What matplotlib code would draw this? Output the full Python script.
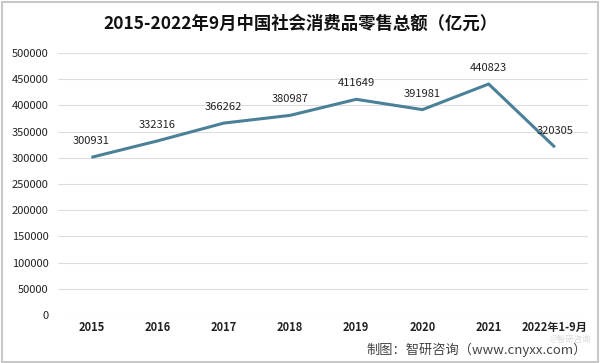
import matplotlib
matplotlib.use("Agg")
import matplotlib.pyplot as plt
from matplotlib.patches import Rectangle

plt.rcParams['font.family'] = ['Noto Sans CJK SC', 'DejaVu Sans']

categories = ["2015", "2016", "2017", "2018", "2019", "2020", "2021", "2022年1-9月"]
values = [300931, 332316, 366262, 380987, 411649, 391981, 440823, 320305]
yticks = [0, 50000, 100000, 150000, 200000, 250000, 300000, 350000, 400000, 450000, 500000]

fig = plt.figure(figsize=(6, 3.63), dpi=100)
fig.patches.append(Rectangle((0.004, 0.004), 0.992, 0.99, transform=fig.transFigure,
                             fill=False, edgecolor="#c8c8c8", linewidth=1.5))
ax = fig.add_axes([0.097, 0.132, 0.883, 0.722])
x = list(range(len(categories)))
ax.plot(x, values, color="#4a8198", linewidth=2.2, solid_capstyle="butt")
for xi, v in zip(x, values):
    ax.annotate(str(v), (xi, v), xytext=(0, 8), textcoords="offset points",
                ha="center", va="bottom", fontsize=8, color="#222222")
ax.set_xlim(-0.5, len(categories) - 0.5)
ax.set_ylim(0, 500000)
ax.set_yticks(yticks)
ax.set_yticklabels([str(t) for t in yticks], fontsize=8, color="#222222")
ax.set_xticks(x)
ax.set_xticklabels(categories, fontsize=8, color="#222222", fontweight="bold")
ax.grid(axis="y", color="#dddddd", linewidth=0.8)
ax.set_axisbelow(True)
for s in ax.spines.values():
    s.set_visible(False)
ax.tick_params(axis="x", length=0, pad=4)
ax.tick_params(axis="y", length=0, pad=7)

fig.text(0.5, 0.935, "2015-2022年9月中国社会消费品零售总额（亿元）", ha="center", va="center",
         fontsize=12.5, fontweight="bold", color="#111111")
fig.text(0.978, 0.036, "制图：智研咨询（www.cnyxx.com）", ha="right", va="center",
         fontsize=9.5, color="#444444")
fig.text(0.985, 0.066, "@智研咨询", ha="right", va="center", fontsize=6,
         color="#d0d0d0", alpha=0.8)
fig.savefig("out.png", dpi=100)
